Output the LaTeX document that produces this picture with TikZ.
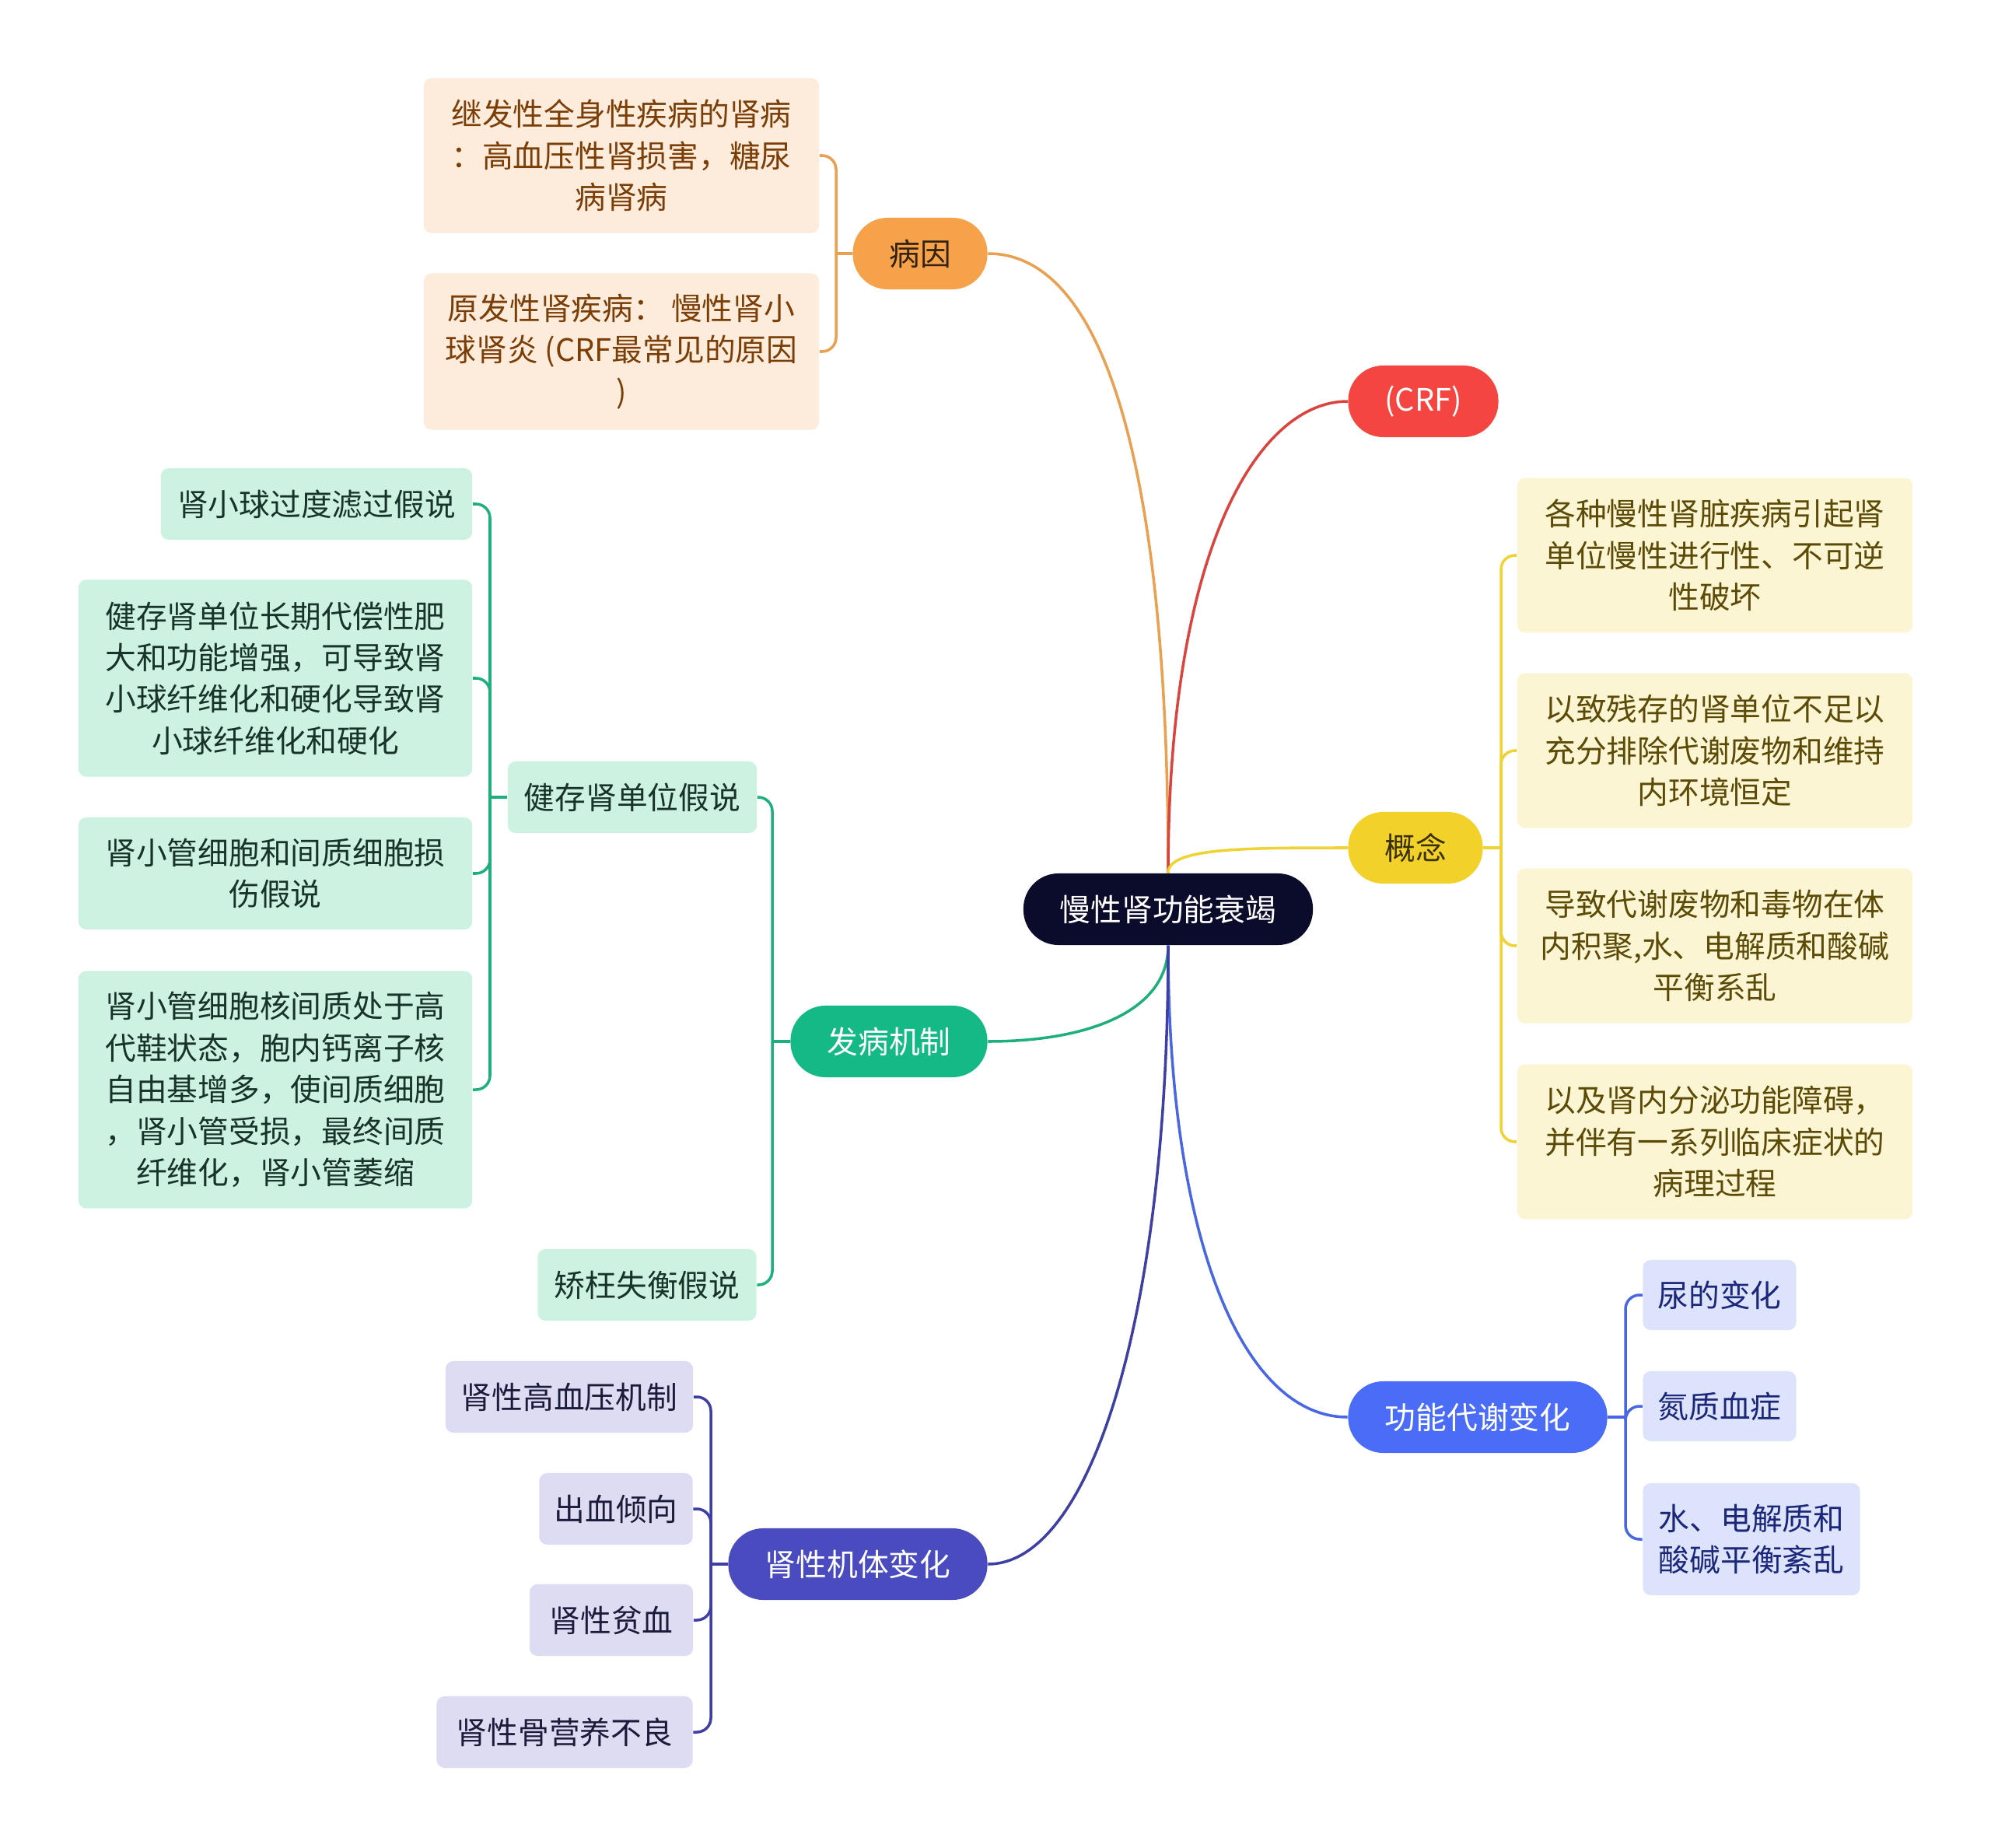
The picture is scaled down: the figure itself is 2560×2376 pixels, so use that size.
\documentclass[tikz,border=0pt]{standalone}
\usepackage{fontspec}
\setmainfont{Noto Sans CJK SC}
\newcommand{\nodefont}{\fontsize{11.3}{15.2}\selectfont}

\definecolor{rootfill}{HTML}{0B0B2B}
\definecolor{yinfill}{HTML}{F5A24B}
\definecolor{yinline}{HTML}{E9A050}
\definecolor{yinleaf}{HTML}{FDEBDC}
\definecolor{yintext}{HTML}{7A3E06}
\definecolor{yintop}{HTML}{33220F}
\definecolor{crffill}{HTML}{F44540}
\definecolor{crfline}{HTML}{D9443E}
\definecolor{gnfill}{HTML}{F2D22A}
\definecolor{gnline}{HTML}{EFD334}
\definecolor{gnleaf}{HTML}{FCF5D3}
\definecolor{gntext}{HTML}{5B4B07}
\definecolor{gntop}{HTML}{3A3000}
\definecolor{fbfill}{HTML}{14B985}
\definecolor{fbline}{HTML}{1FAE7E}
\definecolor{fbleaf}{HTML}{CEF2E2}
\definecolor{fbtext}{HTML}{17332A}
\definecolor{gdfill}{HTML}{4A6CF7}
\definecolor{gdline}{HTML}{4967E2}
\definecolor{gdleaf}{HTML}{DCE3FB}
\definecolor{gdtext}{HTML}{1B2779}
\definecolor{ssfill}{HTML}{4B4BC0}
\definecolor{ssline}{HTML}{3E3EA3}
\definecolor{ssleaf}{HTML}{DEDCF3}
\definecolor{sstext}{HTML}{1B1B3B}

\begin{document}
\begin{tikzpicture}[x=0.01cm, y=-0.01cm,
  topic/.style={rounded corners=0.45cm, inner sep=0pt, minimum height=0.92cm, font=\nodefont},
  leaf/.style={rounded corners=0.1cm, inner sep=0pt, align=center, font=\nodefont},
  yinleafbox/.style={leaf, fill=yinleaf, text=yintext, minimum width=5.08cm},
  fbleafbox/.style={leaf, fill=fbleaf, text=fbtext},
  gnleafbox/.style={leaf, fill=gnleaf, text=gntext, minimum width=5.08cm, minimum height=1.99cm},
  gdleafbox/.style={leaf, fill=gdleaf, text=gdtext},
  ssleafbox/.style={leaf, fill=ssleaf, text=sstext, minimum height=0.92cm},
  link/.style={line width=1pt},
  fork/.style={line width=1pt, rounded corners=0.18cm}]
  \useasboundingbox (0,0) rectangle (2560,2376);

  % centre and main topics
  \node[topic, fill=rootfill, text=white, minimum width=3.72cm] (root) at (1502,1169) {慢性肾功能衰竭};
  \node[topic, fill=yinfill, text=yintop, minimum width=1.73cm] (bingyin) at (1183,326) {病因};
  \node[topic, fill=crffill, text=white, minimum width=1.93cm] (crf) at (1830,516) {(CRF)};
  \node[topic, fill=gnfill, text=gntop, minimum width=1.73cm] (gainian) at (1820,1090) {概念};
  \node[topic, fill=fbfill, text=white, minimum width=2.53cm] (fabing) at (1143,1339) {发病机制};
  \node[topic, fill=gdfill, text=white, minimum width=3.33cm] (gongneng) at (1900,1822) {功能代谢变化};
  \node[topic, fill=ssfill, text=white, minimum width=3.33cm] (shenxing) at (1103,2011) {肾性机体变化};

  \draw[link, yinline] (root.north) .. controls (1502,600) and (1420,326) .. (bingyin.east);
  \draw[link, crfline] (root.north) .. controls (1502,700) and (1620,516) .. (crf.west);
  \draw[link, gnline] (root.north) .. controls (1502,1090) and (1600,1090) .. (gainian.west);
  \draw[link, fbline] (root.south) .. controls (1502,1300) and (1400,1339) .. (fabing.east);
  \draw[link, gdline] (root.south) .. controls (1502,1600) and (1600,1822) .. (gongneng.west);
  \draw[link, ssline] (root.south) .. controls (1502,1700) and (1400,2011) .. (shenxing.east);

  % 病因
  \node[yinleafbox, minimum height=1.99cm] (jifa) at (799,200) {继发性全身性疾病的肾病\\：高血压性肾损害，糖尿\\病肾病};
  \node[yinleafbox, minimum height=2.01cm] (yuanfa) at (799,452) {原发性肾疾病： 慢性肾小\\球肾炎 (CRF最常见的原因\\)};
  \coordinate (yinfork) at (1075,326);
  \draw[link, yinline] (bingyin.west) -- (yinfork);
  \foreach \c in {jifa,yuanfa} \draw[fork, yinline] (yinfork) |- (\c.east);

  % 概念
  \node[gnleafbox] (gn1) at (2205,714) {各种慢性肾脏疾病引起肾\\单位慢性进行性、不可逆\\性破坏};
  \node[gnleafbox] (gn2) at (2205,965) {以致残存的肾单位不足以\\充分排除代谢废物和维持\\内环境恒定};
  \node[gnleafbox] (gn3) at (2205,1216) {导致代谢废物和毒物在体\\内积聚,水、电解质和酸碱\\平衡系乱};
  \node[gnleafbox] (gn4) at (2205,1468) {以及肾内分泌功能障碍，\\并伴有一系列临床症状的\\病理过程};
  \coordinate (gnfork) at (1930,1090);
  \draw[link, gnline] (gainian.east) -- (gnfork);
  \foreach \c in {gn1,gn2,gn3,gn4} \draw[fork, gnline] (gnfork) |- (\c.west);

  % 发病机制
  \node[fbleafbox, minimum width=3.2cm, minimum height=0.92cm] (jiancun) at (813,1025) {健存肾单位假说};
  \node[fbleafbox, minimum width=2.81cm, minimum height=0.92cm] (jiaowang) at (832,1652) {矫枉失衡假说};
  \coordinate (fbfork) at (993,1339);
  \draw[link, fbline] (fabing.west) -- (fbfork);
  \foreach \c in {jiancun,jiaowang} \draw[fork, fbline] (fbfork) |- (\c.east);

  \node[fbleafbox, minimum width=4cm, minimum height=0.92cm] (jc1) at (407,648) {肾小球过度滤过假说};
  \node[fbleafbox, minimum width=5.06cm, minimum height=2.53cm] (jc2) at (354,872) {健存肾单位长期代偿性肥\\大和功能增强，可导致肾\\小球纤维化和硬化导致肾\\小球纤维化和硬化};
  \node[fbleafbox, minimum width=5.06cm, minimum height=1.44cm] (jc3) at (354,1123) {肾小管细胞和间质细胞损\\伤假说};
  \node[fbleafbox, minimum width=5.06cm, minimum height=3.05cm] (jc4) at (354,1401) {肾小管细胞核间质处于高\\代鞋状态，胞内钙离子核\\自由基增多，使间质细胞\\，肾小管受损，最终间质\\纤维化，肾小管萎缩};
  \coordinate (jcfork) at (630,1025);
  \draw[link, fbline] (jiancun.west) -- (jcfork);
  \foreach \c in {jc1,jc2,jc3,jc4} \draw[fork, fbline] (jcfork) |- (\c.east);

  % 功能代谢变化
  \node[gdleafbox, minimum width=1.97cm, minimum height=0.9cm] (gd1) at (2211,1665) {尿的变化};
  \node[gdleafbox, minimum width=1.97cm, minimum height=0.9cm] (gd2) at (2211,1808) {氮质血症};
  \node[gdleafbox, minimum width=2.79cm, minimum height=1.44cm] (gd3) at (2252,1979) {水、电解质和\\酸碱平衡紊乱};
  \coordinate (gdfork) at (2090,1822);
  \draw[link, gdline] (gongneng.east) -- (gdfork);
  \foreach \c in {gd1,gd2,gd3} \draw[fork, gdline] (gdfork) |- (\c.west);

  % 肾性机体变化
  \node[ssleafbox, minimum width=3.18cm] (ss1) at (732,1796) {肾性高血压机制};
  \node[ssleafbox, minimum width=1.97cm] (ss2) at (792,1940) {出血倾向};
  \node[ssleafbox, minimum width=2.1cm] (ss3) at (786,2083) {肾性贫血};
  \node[ssleafbox, minimum width=3.29cm] (ss4) at (726,2227) {肾性骨营养不良};
  \coordinate (ssfork) at (914,2011);
  \draw[link, ssline] (shenxing.west) -- (ssfork);
  \foreach \c in {ss1,ss2,ss3,ss4} \draw[fork, ssline] (ssfork) |- (\c.east);
\end{tikzpicture}
\end{document}
